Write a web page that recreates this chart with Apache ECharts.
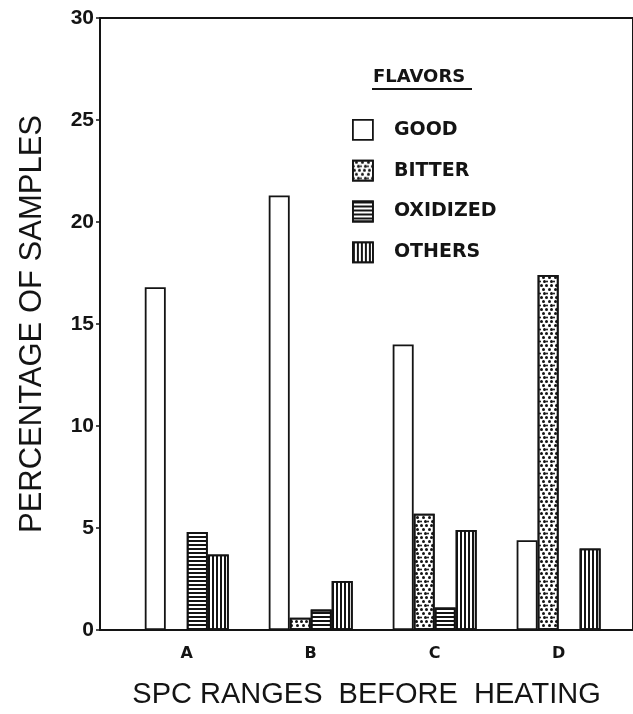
<!DOCTYPE html>
<html>
<head>
<meta charset="utf-8">
<script src="https://cdn.jsdelivr.net/npm/echarts@6/dist/echarts.min.js"></script>
<style>
html,body{margin:0;padding:0;background:#fff;}
#chart{width:633px;height:714px;}
</style>
</head>
<body>
<div id="chart"></div>
<script>
// ---- data ----
const categories = ['A', 'B', 'C', 'D'];
const seriesNames = ['GOOD', 'BITTER', 'OXIDIZED', 'OTHERS'];
const good     = [16.8, 21.3, 14.0, 4.4];
const bitter   = [0,    0.6,  5.7, 17.4];
const oxidized = [4.8,  1.0,  1.1, 0];
const others   = [3.7,  2.4,  4.9, 4.0];
const yTicks   = [0, 5, 10, 15, 20, 25, 30];
const yTitle = 'PERCENTAGE OF SAMPLES';
const xTitle = 'SPC RANGES  BEFORE  HEATING';
const legendTitle = 'FLAVORS';

const INK = '#141414';
const decals = [
  null,
  { symbol: 'circle', symbolSize: 1, color: INK,
    dashArrayX: [[2.2, 1.3], [0, 1.2, 2.2, 0.1], [1.1, 1.2, 2.2, 0]], dashArrayY: [2.2, 0.3], rotation: 0 },
  { symbol: 'rect', symbolSize: 1, color: INK, dashArrayX: [1, 0], dashArrayY: [2, 2], rotation: 0 },
  { symbol: 'rect', symbolSize: 1, color: INK, dashArrayX: [2, 1.8], dashArrayY: [1, 0], rotation: 0 }
];
const values = [good, bitter, oxidized, others];

const series = values.map((arr, si) => ({
  name: seriesNames[si],
  type: 'bar',
  barWidth: 21,
  barGap: '0%',
  data: arr.map((v, ci) => [ci, v]),
  itemStyle: Object.assign({ color: '#fff', borderColor: INK, borderWidth: 1.8 },
    decals[si] ? { decal: decals[si] } : {}),
  emphasis: { disabled: true },
  animation: false
}));

const chart = echarts.init(document.getElementById('chart'), null, { renderer: 'canvas' });
chart.setOption({
  backgroundColor: '#fff',
  animation: false,
  grid: { left: 100, right: -4, top: 18, bottom: 82, show: true, borderColor: INK, borderWidth: 2, backgroundColor: 'transparent' },
  xAxis: {
    type: 'value', min: -0.7, max: 3.6,
    splitLine: { show: false },
    axisLine: { show: true, onZero: false, lineStyle: { color: INK, width: 2 } },
    axisTick: { show: false },
    axisLabel: {
      customValues: [0, 1, 2, 3],
      formatter: v => categories[Math.round(v)] || '',
      margin: 16, color: INK, fontFamily: 'DejaVu Sans', fontWeight: 'bold', fontSize: 16
    },
    name: xTitle, nameLocation: 'middle', nameGap: 50,
    nameTextStyle: { fontFamily: 'Liberation Sans', fontSize: 29, color: INK, whiteSpace: 'pre' }
  },
  yAxis: {
    type: 'value', min: 0, max: 30, interval: 5,
    splitLine: { show: false },
    axisLine: { show: true, onZero: false, lineStyle: { color: INK, width: 2 } },
    axisTick: { show: true, length: 4, lineStyle: { color: INK, width: 1.5 } },
    axisLabel: {
      customValues: yTicks,
      margin: 6, color: INK, fontFamily: 'Liberation Sans', fontWeight: 'bold', fontSize: 21
    },
    name: yTitle, nameLocation: 'middle', nameGap: 52, nameRotate: 90,
    nameTextStyle: { fontFamily: 'Liberation Sans', fontSize: 31, color: INK }
  },
  legend: {
    orient: 'vertical', left: 347, top: 114,
    itemWidth: 20, itemHeight: 20, itemGap: 19,
    icon: 'rect',
    data: seriesNames,
    selectedMode: false,
    itemStyle: { borderColor: INK, borderWidth: 1.8 },
    textStyle: { fontFamily: 'DejaVu Sans', fontWeight: 'bold', fontSize: 19, color: INK, padding: [0, 0, 0, 16] }
  },
  graphic: [
    { type: 'text', left: 373, top: 68,
      style: { text: legendTitle, fontFamily: 'DejaVu Sans', fontWeight: 'bold', fontSize: 18, fill: INK } },
    { type: 'line', shape: { x1: 372, y1: 89, x2: 472, y2: 89 }, style: { stroke: INK, lineWidth: 2.2 } }
  ],
  series: series
});
</script>
</body>
</html>
